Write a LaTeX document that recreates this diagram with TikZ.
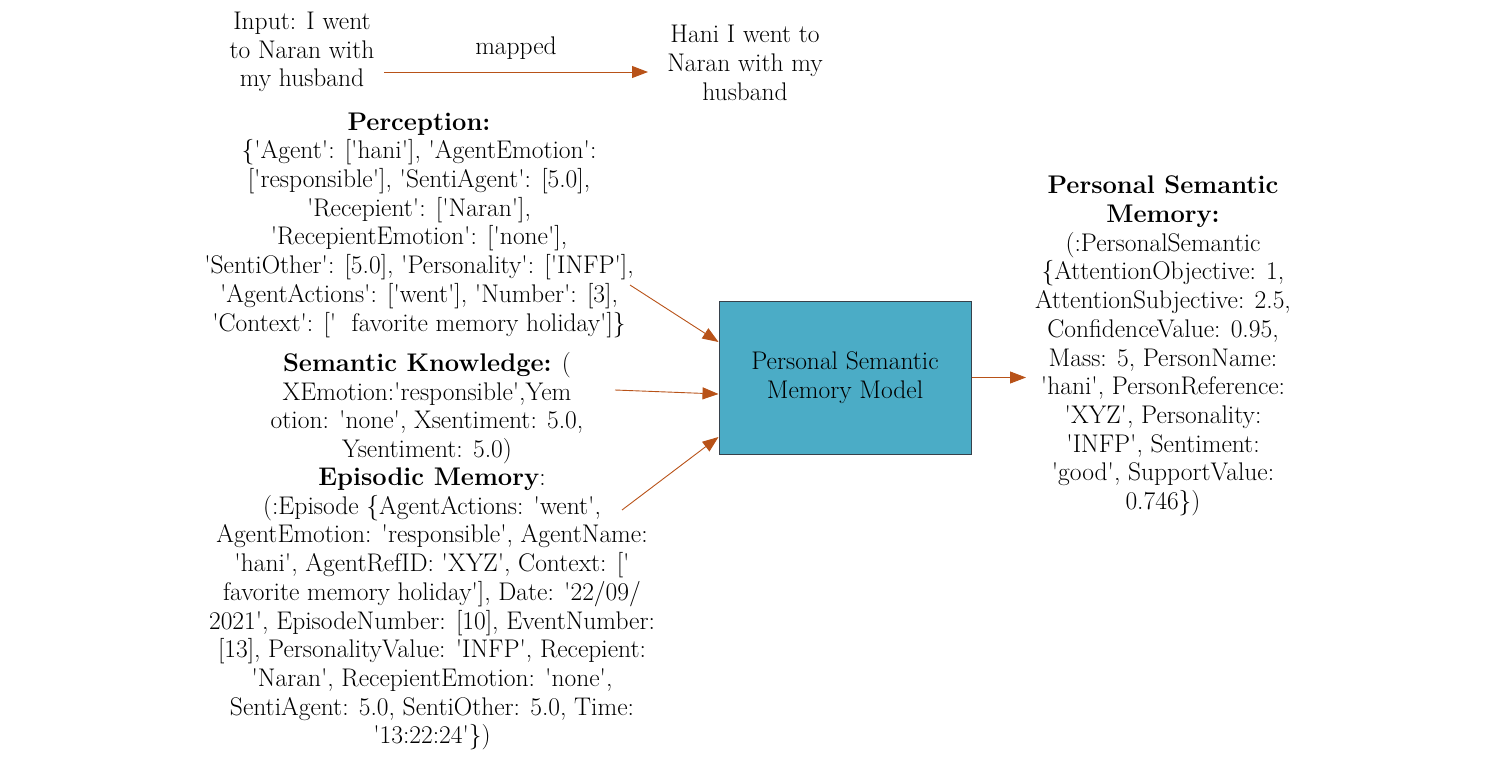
\documentclass[tikz,border=0pt]{standalone}
\usetikzlibrary{arrows.meta,calc}
\definecolor{arr}{RGB}{184,82,24}
\definecolor{boxfill}{RGB}{75,172,198}
\definecolor{boxline}{RGB}{55,65,75}
\newcommand{\sq}{\textquotesingle}
\begin{document}
\begin{tikzpicture}[x=1pt,y=-1pt,
  txt/.style={align=center, font=\fontsize{25.5}{28.7}\selectfont, inner sep=0pt},
  conn/.style={draw=arr, line width=0.9pt, -{Triangle[length=16pt,width=12pt]}},
  model/.style={draw=boxline, fill=boxfill, line width=1pt, minimum width=252pt,
    minimum height=153pt, align=center, inner sep=0pt,
    font=\fontsize{25.5}{28.7}\selectfont}]
\useasboundingbox (0,0) rectangle (1500,763);

\node[txt] (inp) at (302,52) {Input: I went\\ to Naran with\\ my husband};
\node[txt] (hani) at (745,63) {Hani I went to\\ Naran with my\\ husband};
\coordinate (m1) at (384,72);
\coordinate (m2) at (648,72);
\draw[conn] (m1) -- node[txt, above=12pt] (mapped) {mapped} (m2);

\node[txt] (perc) at (419,225) {\textbf{Perception:}\\
\{\sq Agent\sq: {[}\sq hani\sq], \sq AgentEmotion\sq:\\
{[}\sq responsible\sq], \sq SentiAgent\sq: [5.0],\\
\sq Recepient\sq: [\sq Naran\sq],\\
\sq RecepientEmotion\sq: [\sq none\sq],\\
\sq SentiOther\sq: [5.0], \sq Personality\sq: [\sq INFP\sq],\\
\sq AgentActions\sq: [\sq went\sq], \sq Number\sq: [3],\\
\sq Context\sq: [\sq\ \ favorite memory holiday\sq]\}};

\node[txt] (sem) at (427,408) {\textbf{Semantic Knowledge:} (\\
XEmotion:\sq responsible\sq,Yem\\
otion: \sq none\sq, Xsentiment: 5.0,\\
Ysentiment: 5.0)};

\node[txt] (epi) at (432,609) {\textbf{Episodic Memory}:\\
(:Episode \{AgentActions: \sq went\sq,\\
AgentEmotion: \sq responsible\sq, AgentName:\\
\sq hani\sq, AgentRefID: \sq XYZ\sq, Context: {[}\sq\\
favorite memory holiday\sq], Date: \sq 22/09/\\
2021\sq, EpisodeNumber: [10], EventNumber:\\
{[}13], PersonalityValue: \sq INFP\sq, Recepient:\\
\sq Naran\sq, RecepientEmotion: \sq none\sq,\\
SentiAgent: 5.0, SentiOther: 5.0, Time:\\
\sq 13:22:24\sq\})};

\node[model] (model) at (845,377.5) {Personal Semantic\\ Memory Model};

\node[txt] (psm) at (1163,346) {\textbf{Personal Semantic}\\ \textbf{Memory:}\\
(:PersonalSemantic\\
\{AttentionObjective: 1,\\
AttentionSubjective: 2.5,\\
ConfidenceValue: 0.95,\\
Mass: 5, PersonName:\\
\sq hani\sq, PersonReference:\\
\sq XYZ\sq, Personality:\\
\sq INFP\sq, Sentiment:\\
\sq good\sq, SupportValue:\\
0.746\})};

\coordinate (pa) at (630,285);
\coordinate (sa) at (615,390);
\coordinate (ea) at (622,510);
\coordinate (oa) at (1026,377.5);
\draw[conn] (pa) -- ($(model.west)+(0,-35.5)$);
\draw[conn] (sa) -- ($(model.west)+(0,16.5)$);
\draw[conn] (ea) -- ($(model.west)+(0,59.5)$);
\draw[conn] (model.east) -- (oa);
\end{tikzpicture}
\end{document}
